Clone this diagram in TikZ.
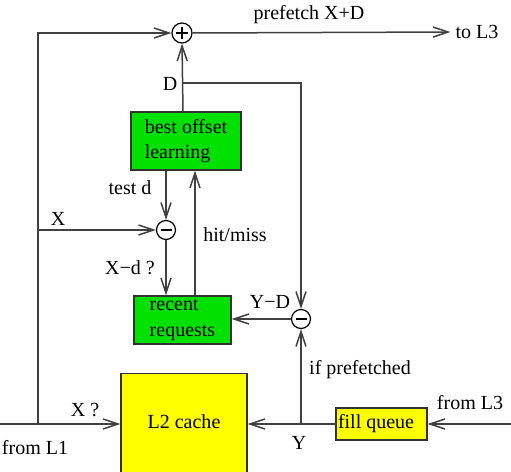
\documentclass[tikz,border=0pt]{standalone}
\usepackage{fontspec}
\setmainfont{Liberation Serif}
\usetikzlibrary{arrows.meta}
\definecolor{boxgreen}{RGB}{0,225,0}
\definecolor{boxyellow}{RGB}{255,255,0}
\definecolor{linegray}{RGB}{64,64,64}
\begin{document}
\begin{tikzpicture}[x=1pt,y=-1pt,
  every node/.style={font=\fontsize{20}{25.5}\selectfont, inner sep=0pt},
  conn/.style={draw=linegray, line width=1.5pt, -{Straight Barb[length=15pt,width=10pt]}},
  blk/.style={draw=black!80, line width=1.2pt, fill=boxgreen, align=left},
  ybox/.style={draw=black!80, line width=1.2pt, fill=boxyellow},
  op/.style={circle, draw=black, line width=1.2pt, fill=white, minimum size=19pt},
  plussign/.style={path picture={\draw[line width=1.2pt]
     ([xshift=-6pt]path picture bounding box.center) -- ([xshift=6pt]path picture bounding box.center)
     ([yshift=-6pt]path picture bounding box.center) -- ([yshift=6pt]path picture bounding box.center);}},
  minussign/.style={path picture={\draw[line width=1.2pt]
     ([xshift=-5.5pt]path picture bounding box.center) -- ([xshift=5.5pt]path picture bounding box.center);}}
]
\useasboundingbox (0,0) rectangle (511,471);
\clip (0,0) rectangle (511,471);

% blocks
\node[op,plussign,minimum size=20pt] (plus) at (182,33) {};
\node[op,minussign] (m1) at (166,230) {};
\node[op,minussign] (m2) at (301,319) {};
\node[blk, minimum width=110pt, minimum height=58pt] (bol) at (186,141) {best offset\\learning};
\node[blk, minimum width=97pt, minimum height=48pt] (rr) at (182.5,320) {recent\\requests};
\node[ybox, minimum width=126pt, minimum height=110pt, anchor=north] (l2) at (184,373) {};
\node (l2t) at (184,422) {L2 cache};
\node[ybox, minimum width=91pt, minimum height=32pt] (fq) at (381.5,424) {\makebox[87pt][l]{fill queue}};
\node (toL3) at (477,32) {to L3};

% coordinates
\coordinate (inL1) at (0,424);
\coordinate (jl) at (38,424);
\coordinate (jx) at (38,230);
\coordinate (jd) at (183,83);
\coordinate (jy) at (301,424);
\coordinate (inL3) at (511,424);
\coordinate (hmx) at (195,250);

% connectors
\draw[conn] (inL1) -- (inL1 -| l2.west);
\draw[conn] (jl) |- (plus.west);
\draw[conn] (jx) -- (m1.west);
\draw[conn] (plus.east) -- ([xshift=-5pt]toL3.west);
\draw[conn] (bol.north -| jd) -- (plus.south);
\draw[conn] (jd) -| (m2.north);
\draw[conn] (bol.south -| m1) -- (m1.north);
\draw[conn] (m1.south) -- (rr.north -| m1);
\draw[conn] (rr.north -| hmx) -- (bol.south -| hmx);
\draw[conn] (m2.west) -- (rr.east |- m2);
\draw[conn] (jy) -- (m2.south);
\draw[conn] (fq.west) -- (jy -| l2.east);
\draw[conn] (inL3) -- (fq.east);

% labels
\node (lpf) at (309,15) {prefetch X+D};
\node (lD) at (170,84) {D};
\node (ltd) at (130,188) {test d};
\node (lX) at (58,219) {X};
\node (lhm) at (235,235) {hit/miss};
\node (lxd) at (130,268) {X−d ?};
\node (lyd) at (270,302) {Y−D};
\node (lip) at (360,370) {if prefetched};
\node (lfl3) at (470,403) {from L3};
\node (lY) at (299,443) {Y};
\node (lxq) at (85,410) {X ?};
\node (lfl1) at (35,448) {from L1};
\end{tikzpicture}
\end{document}
